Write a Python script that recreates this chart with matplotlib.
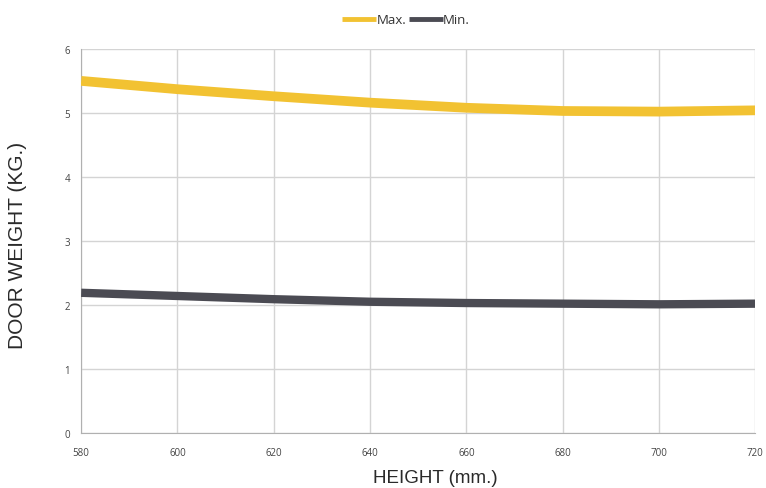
import matplotlib
matplotlib.use("Agg")
import matplotlib.pyplot as plt

height = [580, 600, 620, 640, 660, 680, 700, 720]
max_weight = [5.50, 5.37, 5.26, 5.16, 5.08, 5.03, 5.02, 5.04]
min_weight = [2.19, 2.14, 2.09, 2.05, 2.03, 2.02, 2.01, 2.02]
x_ticks = [580, 600, 620, 640, 660, 680, 700, 720]
y_ticks = [0, 1, 2, 3, 4, 5, 6]

plt.rcParams['font.family'] = ['Open Sans', 'DejaVu Sans']

fig = plt.figure(figsize=(7.66, 4.89), dpi=100)
ax = fig.add_axes([0.106, 0.1125, 0.880, 0.7855])

ax.plot(height, max_weight, color='#F2C232', lw=7, solid_capstyle='butt', solid_joinstyle='round', label='Max.', zorder=3)
ax.plot(height, min_weight, color='#4B4B53', lw=6, solid_capstyle='butt', solid_joinstyle='round', label='Min.', zorder=3)

ax.set_xlim(580, 720)
ax.set_ylim(0, 6)
ax.set_xticks(x_ticks)
ax.set_yticks(y_ticks)
ax.grid(True, color='#d4d4d4', lw=1)
for s in ['top', 'right']:
    ax.spines[s].set_visible(False)
for s in ['left', 'bottom']:
    ax.spines[s].set_color('#b0b0b0')
ax.tick_params(axis='x', length=0, labelsize=7, labelcolor='#444444', pad=10)
ax.tick_params(axis='y', length=0, labelsize=7, labelcolor='#444444', pad=8)

fig.text(435 / 766, 1 - 479 / 489, 'HEIGHT (mm.)', fontsize=13.5, color='#2a2a2a',
         family=['Liberation Sans', 'DejaVu Sans'], ha='center', va='center')
fig.text(18 / 766, 1 - 245 / 489, 'DOOR WEIGHT (KG.)', fontsize=15, color='#2a2a2a',
         family=['Liberation Sans', 'DejaVu Sans'], ha='center', va='center', rotation=90)

leg = fig.legend(loc='center', bbox_to_anchor=(406 / 766, 1 - 21 / 489), ncol=2, frameon=False,
                 fontsize=9.5, handlelength=2.6, handletextpad=0.0, columnspacing=0.2,
                 borderpad=0, borderaxespad=0)
for line in leg.get_lines():
    line.set_linewidth(3.5)
for t in leg.get_texts():
    t.set_color('#333333')

fig.savefig('out.png', dpi=100)
